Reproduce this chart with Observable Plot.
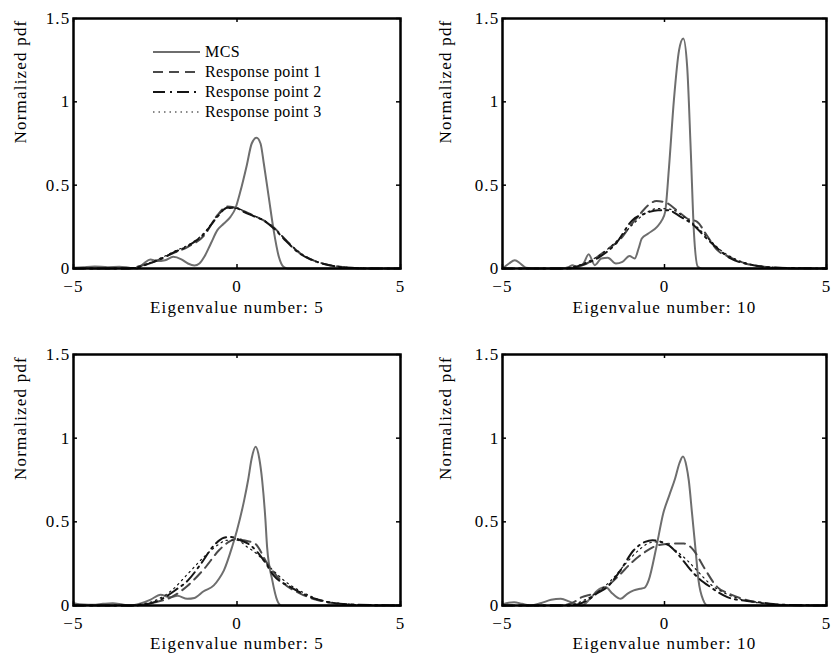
<!DOCTYPE html>
<html><head><meta charset="utf-8">
<script src="https://cdn.jsdelivr.net/npm/d3@7"></script>
<script src="https://cdn.jsdelivr.net/npm/@observablehq/plot@0.6"></script>
<style>
body{margin:0;background:#fff;}
#wrap{position:relative;width:833px;height:653px;overflow:hidden;background:#fff;font-family:"Liberation Serif","Times New Roman",Times,"DejaVu Serif",serif;}
.panel{position:absolute;}
.panel text{font-family:"Liberation Serif","Times New Roman",Times,"DejaVu Serif",serif;}
</style></head><body><div id="wrap"></div>
<script>
// ---- tick values & labels ----
const xTicks = [-5, 0, 5];
const yTicks = [0, 0.5, 1, 1.5];
const seriesNames = ["MCS", "Response point 1", "Response point 2", "Response point 3"];
const panelTitles = ["Eigenvalue number: 5", "Eigenvalue number: 10", "Eigenvalue number: 5", "Eigenvalue number: 10"];
const yTitle = "Normalized pdf";

// ---- Panel 1 (top-left, eigenvalue 5) ----
const p1_mcs = [[-5,0.004],[-4.7,0.008],[-4.35,0.012],[-3.95,0.008],[-3.6,0.01],[-3.3,0.005],[-3.05,0.0],[-2.85,0.03],[-2.65,0.054],[-2.45,0.045],[-2.2,0.05],[-1.95,0.07],[-1.7,0.055],[-1.5,0.03],[-1.3,0.018],[-1.15,0.03],[-1.0,0.07],[-0.8,0.15],[-0.6,0.23],[-0.4,0.27],[-0.2,0.31],[-0.05,0.36],[0.1,0.46],[0.3,0.62],[0.45,0.75],[0.6,0.785],[0.72,0.75],[0.82,0.63],[0.97,0.43],[1.12,0.23],[1.28,0.07],[1.42,0.01],[1.55,0],[5,0]];
const p1_rp1 = [[-5,0],[-3.4,0],[-3.1,0.008],[-2.7,0.03],[-2.3,0.06],[-2.0,0.088],[-1.5,0.13],[-1.0,0.2],[-0.6,0.32],[-0.3,0.372],[-0.1,0.368],[0.2,0.345],[0.5,0.318],[0.8,0.29],[1.1,0.25],[1.5,0.17],[1.9,0.095],[2.3,0.052],[2.7,0.026],[3.1,0.012],[3.5,0.004],[4.0,0],[5,0]];
const p1_rp2 = [[-5,0],[-3.3,0],[-3.0,0.01],[-2.6,0.035],[-2.2,0.07],[-1.9,0.1],[-1.5,0.135],[-1.0,0.21],[-0.6,0.31],[-0.3,0.365],[-0.05,0.365],[0.2,0.34],[0.5,0.315],[0.8,0.29],[1.1,0.245],[1.5,0.165],[1.9,0.092],[2.3,0.05],[2.7,0.025],[3.1,0.01],[3.6,0.003],[4.2,0],[5,0]];
const p1_rp3 = [[-5,0],[-3.3,0],[-3.0,0.01],[-2.6,0.04],[-2.2,0.075],[-1.9,0.105],[-1.5,0.14],[-1.0,0.215],[-0.6,0.315],[-0.3,0.36],[0,0.36],[0.3,0.335],[0.6,0.31],[0.9,0.28],[1.2,0.23],[1.6,0.15],[2.0,0.085],[2.4,0.045],[2.8,0.022],[3.2,0.01],[3.7,0.003],[4.3,0],[5,0]];

// ---- Panel 2 (top-right, eigenvalue 10) ----
const p2_mcs = [[-5,0],[-4.8,0.03],[-4.62,0.05],[-4.45,0.03],[-4.28,0.005],[-4.0,0],[-3.2,0],[-2.95,0.01],[-2.84,0.02],[-2.7,0.008],[-2.5,0.03],[-2.34,0.085],[-2.15,0.02],[-1.95,0.06],[-1.75,0.065],[-1.5,0.03],[-1.3,0.04],[-1.08,0.075],[-0.92,0.06],[-0.8,0.12],[-0.7,0.18],[-0.5,0.21],[-0.23,0.25],[-0.08,0.29],[0.02,0.34],[0.14,0.61],[0.29,1.01],[0.45,1.31],[0.58,1.38],[0.7,1.21],[0.81,0.71],[0.91,0.21],[1.03,0.01],[1.15,0],[5,0]];
const p2_rp1 = [[-5,0],[-3.0,0],[-2.8,0.005],[-2.4,0.03],[-2.0,0.08],[-1.67,0.128],[-1.39,0.17],[-1.0,0.27],[-0.74,0.33],[-0.5,0.38],[-0.25,0.405],[0.05,0.395],[0.4,0.345],[0.7,0.3],[1.01,0.28],[1.3,0.2],[1.63,0.11],[2.0,0.07],[2.5,0.03],[3.0,0.012],[3.5,0.004],[4.5,0],[5,0]];
const p2_rp2 = [[-5,0],[-3.1,0],[-2.9,0.005],[-2.5,0.025],[-2.0,0.07],[-1.5,0.15],[-0.99,0.29],[-0.6,0.33],[-0.2,0.35],[0.1,0.35],[0.5,0.31],[0.9,0.26],[1.3,0.18],[1.7,0.11],[2.04,0.06],[2.5,0.03],[3.0,0.012],[3.5,0.005],[4.5,0.001],[5,0]];
const p2_rp3 = [[-5,0],[-3.2,0],[-3.0,0.004],[-2.5,0.03],[-2.0,0.08],[-1.5,0.16],[-1.0,0.26],[-0.6,0.33],[-0.2,0.36],[0.2,0.355],[0.6,0.31],[1.0,0.25],[1.4,0.17],[1.8,0.1],[2.2,0.055],[2.6,0.028],[3.0,0.013],[3.6,0.004],[4.5,0.001],[5,0]];

// ---- Panel 3 (bottom-left, eigenvalue 5) ----
const p3_mcs = [[-5,0.014],[-4.7,0.006],[-4.4,0.004],[-4.1,0.01],[-3.8,0.014],[-3.5,0.006],[-3.25,0.0],[-2.95,0.012],[-2.64,0.035],[-2.34,0.064],[-2.05,0.05],[-1.82,0.058],[-1.52,0.04],[-1.3,0.045],[-1.02,0.085],[-0.71,0.12],[-0.55,0.16],[-0.4,0.21],[-0.15,0.35],[0.0,0.45],[0.22,0.63],[0.34,0.75],[0.45,0.88],[0.57,0.948],[0.68,0.88],[0.77,0.747],[0.87,0.51],[0.92,0.35],[1.08,0.15],[1.23,0.03],[1.35,0.0],[5,0]];
const p3_rp1 = [[-5,0],[-3.1,0],[-2.8,0.008],[-2.5,0.02],[-2.0,0.05],[-1.5,0.12],[-1.0,0.22],[-0.55,0.33],[-0.25,0.38],[0,0.4],[0.2,0.39],[0.55,0.37],[0.93,0.25],[1.44,0.13],[1.95,0.07],[2.4,0.035],[2.76,0.02],[3.5,0.004],[4.5,0],[5,0]];
const p3_rp2 = [[-5,0],[-3.2,0],[-3.0,0.003],[-2.6,0.015],[-2.2,0.05],[-1.9,0.09],[-1.5,0.15],[-1.1,0.25],[-0.7,0.36],[-0.4,0.405],[-0.2,0.41],[0.1,0.39],[0.41,0.36],[0.82,0.27],[1.12,0.18],[1.64,0.11],[2.25,0.05],[2.8,0.02],[3.5,0.006],[4.5,0.001],[5,0]];
const p3_rp3 = [[-5,0],[-3.3,0],[-3.0,0.006],[-2.5,0.03],[-2.0,0.09],[-1.5,0.19],[-0.96,0.3],[-0.6,0.36],[-0.3,0.39],[0,0.39],[0.31,0.35],[0.6,0.31],[1.0,0.23],[1.5,0.14],[2.0,0.08],[2.6,0.03],[3.2,0.012],[4.0,0.003],[5,0]];

// ---- Panel 4 (bottom-right, eigenvalue 10) ----
const p4_mcs = [[-5,0.006],[-4.85,0.015],[-4.64,0.02],[-4.4,0.01],[-4.13,0.0],[-3.8,0.015],[-3.5,0.034],[-3.2,0.04],[-2.95,0.025],[-2.75,0.008],[-2.55,0.0],[-2.3,0.04],[-2.07,0.09],[-1.82,0.11],[-1.6,0.07],[-1.35,0.04],[-1.15,0.07],[-0.95,0.09],[-0.75,0.1],[-0.62,0.105],[-0.49,0.15],[-0.25,0.35],[-0.04,0.55],[0.15,0.66],[0.33,0.76],[0.46,0.85],[0.57,0.89],[0.68,0.83],[0.75,0.747],[0.85,0.55],[0.95,0.35],[1.05,0.15],[1.2,0.03],[1.32,0],[5,0]];
const p4_rp1 = [[-5,0],[-3.3,0],[-3.1,0.002],[-2.8,0.02],[-2.55,0.05],[-2.2,0.07],[-1.8,0.11],[-1.4,0.18],[-1.05,0.25],[-0.6,0.32],[-0.2,0.36],[0.2,0.37],[0.6,0.37],[0.9,0.33],[1.21,0.23],[1.63,0.11],[2.0,0.07],[2.5,0.035],[3.0,0.015],[3.5,0.005],[4.5,0],[5,0]];
const p4_rp2 = [[-5,0],[-3.0,0],[-2.7,0.005],[-2.39,0.03],[-2.1,0.07],[-1.77,0.11],[-1.36,0.21],[-0.95,0.33],[-0.6,0.38],[-0.37,0.39],[-0.1,0.38],[0.2,0.35],[0.4,0.31],[0.65,0.25],[0.91,0.19],[1.42,0.11],[1.94,0.05],[2.5,0.028],[2.97,0.018],[3.5,0.006],[4.5,0.001],[5,0]];
const p4_rp3 = [[-5,0],[-3.1,0],[-2.9,0.003],[-2.5,0.03],[-2.0,0.09],[-1.6,0.16],[-1.2,0.25],[-0.8,0.33],[-0.45,0.375],[-0.2,0.38],[0.1,0.36],[0.4,0.32],[0.7,0.27],[1.0,0.21],[1.4,0.13],[1.9,0.07],[2.5,0.03],[3.2,0.01],[4.2,0.002],[5,0]];

const panelSeries = [
  [p1_mcs, p1_rp1, p1_rp2, p1_rp3],
  [p2_mcs, p2_rp1, p2_rp2, p2_rp3],
  [p3_mcs, p3_rp1, p3_rp2, p3_rp3],
  [p4_mcs, p4_rp1, p4_rp2, p4_rp3]
];

// ---- styles (not data) ----
const serif = "\"Liberation Serif\", \"Times New Roman\", Times, \"DejaVu Serif\", serif";
const lineStyles = [
  {stroke: "#6e6e6e", strokeWidth: 2, strokeDasharray: null},
  {stroke: "#4a4a4a", strokeWidth: 2, strokeDasharray: "10,6"},
  {stroke: "#151515", strokeWidth: 2, strokeDasharray: "12,5,2,5"},
  {stroke: "#151515", strokeWidth: 1.2, strokeDasharray: "1.5,4"}
];
const layout = [
  {left: 0,   top: 0,   width: 416, height: 326, ml: 73, mr: 16, mt: 18, mb: 58, ytDx: -53, xtDy: 39},
  {left: 416, top: 0,   width: 417, height: 326, ml: 86, mr: 7,  mt: 18, mb: 58, ytDx: -57, xtDy: 39},
  {left: 0,   top: 336, width: 416, height: 317, ml: 73, mr: 16, mt: 18, mb: 48, ytDx: -53, xtDy: 38},
  {left: 416, top: 336, width: 417, height: 317, ml: 86, mr: 7,  mt: 18, mb: 48, ytDx: -57, xtDy: 38}
];
const fmt = d3.format("");
const wrap = document.getElementById("wrap");

layout.forEach((L, i) => {
  const W = L.width - L.ml - L.mr, H = L.height - L.mt - L.mb;
  const marks = [];
  panelSeries[i].forEach((s, k) => {
    const st = lineStyles[k];
    const opts = {x: d => d[0], y: d => d[1], stroke: st.stroke, strokeWidth: st.strokeWidth, curve: "monotone-x"};
    if (st.strokeDasharray) opts.strokeDasharray = st.strokeDasharray;
    marks.push(Plot.line(s, opts));
  });
  marks.push(
    Plot.tickX(xTicks, {x: d => d, insetTop: H - 4, stroke: "black", strokeWidth: 1.5}),
    Plot.tickX(xTicks, {x: d => d, insetBottom: H - 4, stroke: "black", strokeWidth: 1.5}),
    Plot.tickY(yTicks, {y: d => d, insetLeft: W - 4, stroke: "black", strokeWidth: 1.5}),
    Plot.tickY(yTicks, {y: d => d, insetRight: W - 4, stroke: "black", strokeWidth: 1.5}),
    Plot.frame({stroke: "black", strokeWidth: 2.5}),
    Plot.axisX({ticks: xTicks, tickSize: 0, tickPadding: 11, tickFormat: fmt, label: null, fill: "black", fontFamily: serif}),
    Plot.axisY({ticks: yTicks, tickSize: 0, tickPadding: 3, tickFormat: fmt, label: null, fill: "black", fontFamily: serif}),
    Plot.text([panelTitles[i]], {text: d => d, frameAnchor: "bottom", dy: L.xtDy, fill: "black", lineAnchor: "middle", fontFamily: serif}),
    Plot.text([yTitle], {text: d => d, frameAnchor: "left", dx: L.ytDx, rotate: -90, fill: "black", lineAnchor: "middle", fontFamily: serif})
  );
  const chart = Plot.plot({
    width: L.width, height: L.height,
    marginLeft: L.ml, marginRight: L.mr, marginTop: L.mt, marginBottom: L.mb,
    x: {domain: [-5, 5], label: null},
    y: {domain: [0, 1.5], label: null},
    style: {fontFamily: serif, fontSize: "17px", letterSpacing: "1.2px", background: "transparent", overflow: "visible", color: "black"},
    marks
  });
  chart.classList.add("panel");
  chart.style.left = L.left + "px";
  chart.style.top = L.top + "px";
  wrap.appendChild(chart);
});

// ---- legend inside panel 1 ----
const legendRows = [52, 72, 92, 112];
const leg = d3.select(wrap).append("svg")
  .attr("class", "panel").attr("width", 400).attr("height", 140)
  .style("left", "0px").style("top", "0px");
seriesNames.forEach((name, k) => {
  const st = lineStyles[k];
  leg.append("line").attr("x1", 153).attr("x2", 200).attr("y1", legendRows[k]).attr("y2", legendRows[k])
    .attr("stroke", st.stroke).attr("stroke-width", st.strokeWidth)
    .attr("stroke-dasharray", st.strokeDasharray);
  leg.append("text").attr("x", 205).attr("y", legendRows[k]).attr("dy", "0.33em")
    .style("font-family", serif).attr("font-size", 16)
    .attr("letter-spacing", "0.4px").attr("fill", "black").text(name);
});
</script></body></html>
